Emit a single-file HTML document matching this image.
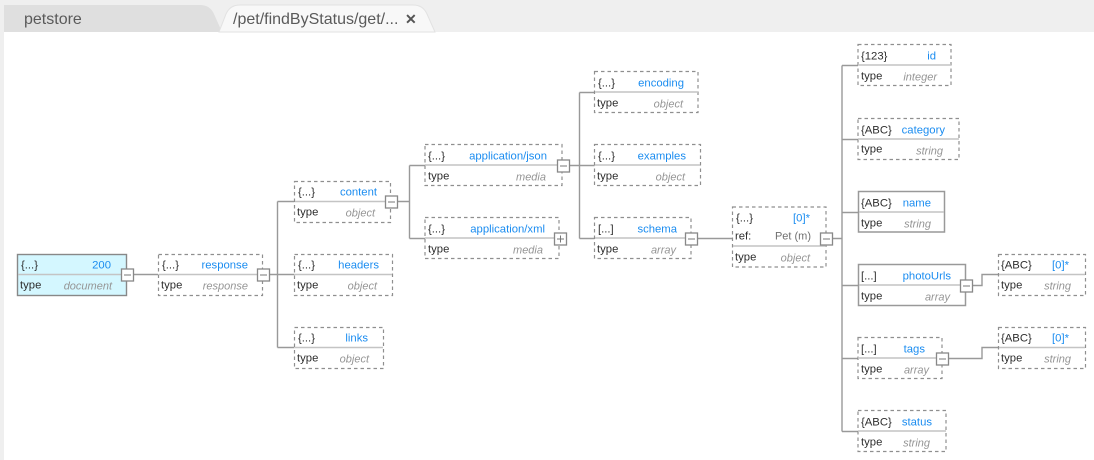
<!DOCTYPE html>
<html>
<head>
<meta charset="utf-8">
<style>
html,body{margin:0;padding:0;background:#fff;width:1094px;height:460px;overflow:hidden}
svg{display:block}
text{font-family:"Liberation Sans",sans-serif;font-size:11.3px;transform:translateY(-0.5px)}
.k{fill:#2e2e2e}
.b{fill:#1a8cf0;text-anchor:end}
.g{fill:#959595;text-anchor:end;font-style:italic;font-size:11px}
.r{fill:#707070;text-anchor:end;font-size:11px}
.d{fill:#fff;stroke:#8f8f8f;stroke-width:1.2;stroke-dasharray:3.5 3}
.s{fill:#fff;stroke:#999;stroke-width:1.5}
.m{stroke:#c4c4c4;stroke-width:1.5;fill:none}
.c{stroke:#999;stroke-width:1.4;fill:none}
.t{fill:#fff;stroke:#888;stroke-width:1.3}
.p{stroke:#777;stroke-width:1;fill:none}
</style>
</head>
<body>
<svg width="1094" height="460" viewBox="0 0 1094 460" xmlns="http://www.w3.org/2000/svg">
<rect x="0" y="0" width="1094" height="32" fill="#efefef"/>
<rect x="0" y="0" width="4" height="460" fill="#efefef"/>
<path d="M4 5H200Q210 5 214 14L222 32H4Z" fill="#dfdfdf"/>
<path d="M219 32L226 14Q230 5 240 5H413Q423 5 427 14L435 32Z" fill="#f8f8f8" stroke="#e2e2e2" stroke-width="1"/>
<text x="24" y="24.5" style="font-size:16px;fill:#5a5a5a">petstore</text>
<text x="233" y="24.5" style="font-size:16px;fill:#5a5a5a">/pet/findByStatus/get/...</text>
<text x="405" y="24.5" style="font-size:14px;font-weight:bold;fill:#555">✕</text>

<!-- connectors -->
<path class="c" d="M133 274.5H158M269 274.5H277.5M277.5 201.5V347.5M277.5 201.5H295M277.5 274.5H295M277.5 347.5H295"/>
<path class="c" d="M397 201.5H409.5M409.5 165.5V238.5M409.5 165.5H425M409.5 238.5H425"/>
<path class="c" d="M569 165.5H579.5M579.5 92.5V238.5M579.5 92.5H595M579.5 165.5H595M579.5 238.5H595"/>
<path class="c" d="M697 238.5H733"/>
<path class="c" d="M832 238.5H842M842 65.5V431.5M842 65.5H858M842 139.5H858M842 212.5H858M842 285.5H858M842 358.5H858M842 431.5H858"/>
<path class="c" d="M972 285.5H982V274.5H998"/>
<path class="c" d="M948 358.5H982V347.5H998"/>

<!-- 200 -->
<rect x="17.5" y="254.5" width="109" height="41" fill="#d4f7ff" stroke="#888" stroke-width="1.4"/>
<line x1="18" y1="274.5" x2="126" y2="274.5" class="m"/>
<text class="k" x="21" y="269">{...}</text><text class="b" x="111" y="269">200</text>
<text class="k" x="20" y="289">type</text><text class="g" x="112" y="290">document</text>

<!-- response -->
<rect class="d" x="158.5" y="254.5" width="104" height="41"/>
<line x1="159" y1="274.5" x2="262" y2="274.5" class="m"/>
<text class="k" x="162" y="269">{...}</text><text class="b" x="248" y="269">response</text>
<text class="k" x="161" y="289">type</text><text class="g" x="248" y="290">response</text>

<!-- content -->
<rect class="d" x="294.5" y="181.5" width="96" height="41"/>
<line x1="295" y1="201.5" x2="390" y2="201.5" class="m"/>
<text class="k" x="298" y="196">{...}</text><text class="b" x="377" y="196">content</text>
<text class="k" x="297" y="216">type</text><text class="g" x="375" y="217">object</text>

<!-- headers -->
<rect class="d" x="294.5" y="254.5" width="98" height="41"/>
<line x1="295" y1="274.5" x2="392" y2="274.5" class="m"/>
<text class="k" x="298" y="269">{...}</text><text class="b" x="379" y="269">headers</text>
<text class="k" x="297" y="289">type</text><text class="g" x="377" y="290">object</text>

<!-- links -->
<rect class="d" x="294.5" y="327.5" width="89" height="41"/>
<line x1="295" y1="347.5" x2="383" y2="347.5" class="m"/>
<text class="k" x="298" y="342">{...}</text><text class="b" x="368" y="342">links</text>
<text class="k" x="297" y="362">type</text><text class="g" x="369" y="363">object</text>

<!-- application/json -->
<rect class="d" x="425" y="144.5" width="137" height="41"/>
<line x1="425" y1="165" x2="562" y2="165" class="m"/>
<text class="k" x="428" y="160">{...}</text><text class="b" x="547" y="160">application/json</text>
<text class="k" x="428" y="180">type</text><text class="g" x="546" y="181">media</text>

<!-- application/xml -->
<rect class="d" x="425" y="217.5" width="134" height="41"/>
<line x1="425" y1="238" x2="559" y2="238" class="m"/>
<text class="k" x="428" y="233">{...}</text><text class="b" x="545" y="233">application/xml</text>
<text class="k" x="428" y="253">type</text><text class="g" x="543" y="254">media</text>

<!-- encoding -->
<rect class="d" x="594.5" y="71.5" width="103.5" height="41"/>
<line x1="595" y1="92" x2="698" y2="92" class="m"/>
<text class="k" x="598" y="87">{...}</text><text class="b" x="684" y="87">encoding</text>
<text class="k" x="597" y="107">type</text><text class="g" x="683" y="108">object</text>

<!-- examples -->
<rect class="d" x="594.5" y="144.5" width="106" height="41"/>
<line x1="595" y1="165" x2="700" y2="165" class="m"/>
<text class="k" x="598" y="160">{...}</text><text class="b" x="686" y="160">examples</text>
<text class="k" x="597" y="180">type</text><text class="g" x="685" y="181">object</text>

<!-- schema -->
<rect class="d" x="594.5" y="217.5" width="96.5" height="41"/>
<line x1="595" y1="238" x2="691" y2="238" class="m"/>
<text class="k" x="598" y="233">[...]</text><text class="b" x="677" y="233">schema</text>
<text class="k" x="597" y="253">type</text><text class="g" x="676" y="254">array</text>

<!-- [0]* Pet -->
<rect class="d" x="732.5" y="207" width="93.5" height="60"/>
<line x1="733" y1="246" x2="826" y2="246" class="m"/>
<text class="k" x="736" y="222">{...}</text><text class="b" x="810" y="222">[0]*</text>
<text class="k" x="735" y="240">ref:</text><text class="r" x="811" y="240">Pet (m)</text>
<text class="k" x="735" y="261">type</text><text class="g" x="810" y="262">object</text>

<!-- id -->
<rect class="d" x="858" y="44.5" width="93" height="41"/>
<line x1="858" y1="65" x2="951" y2="65" class="m"/>
<text class="k" x="861" y="60">{123}</text><text class="b" x="936" y="60">id</text>
<text class="k" x="861" y="80">type</text><text class="g" x="937" y="81">integer</text>

<!-- category -->
<rect class="d" x="858" y="118.5" width="101" height="41"/>
<line x1="858" y1="139" x2="959" y2="139" class="m"/>
<text class="k" x="861" y="134">{ABC}</text><text class="b" x="945" y="134">category</text>
<text class="k" x="861" y="153">type</text><text class="g" x="943" y="155">string</text>

<!-- name -->
<rect class="s" x="858.5" y="191.5" width="86" height="40.5"/>
<line x1="859" y1="212" x2="944" y2="212" class="m"/>
<text class="k" x="861" y="207">{ABC}</text><text class="b" x="931" y="207">name</text>
<text class="k" x="861" y="227">type</text><text class="g" x="931" y="228">string</text>

<!-- photoUrls -->
<rect class="s" x="858.5" y="264.5" width="107" height="41"/>
<line x1="859" y1="285" x2="965" y2="285" class="m"/>
<text class="k" x="861" y="280">[...]</text><text class="b" x="951" y="280">photoUrls</text>
<text class="k" x="861" y="300">type</text><text class="g" x="950" y="301">array</text>

<!-- [0]* upper -->
<rect class="d" x="998.5" y="254.5" width="87" height="41"/>
<line x1="999" y1="274.5" x2="1085" y2="274.5" class="m"/>
<text class="k" x="1001" y="269">{ABC}</text><text class="b" x="1069" y="269">[0]*</text>
<text class="k" x="1001" y="289">type</text><text class="g" x="1071" y="290">string</text>

<!-- tags -->
<rect class="d" x="858" y="337.5" width="84" height="41"/>
<line x1="858" y1="358" x2="942" y2="358" class="m"/>
<text class="k" x="861" y="353">[...]</text><text class="b" x="925" y="353">tags</text>
<text class="k" x="861" y="373">type</text><text class="g" x="929" y="374">array</text>

<!-- [0]* lower -->
<rect class="d" x="998.5" y="327.5" width="87" height="41"/>
<line x1="999" y1="347.5" x2="1085" y2="347.5" class="m"/>
<text class="k" x="1001" y="342">{ABC}</text><text class="b" x="1069" y="342">[0]*</text>
<text class="k" x="1001" y="362">type</text><text class="g" x="1071" y="363">string</text>

<!-- status -->
<rect class="d" x="858" y="410.5" width="88" height="41"/>
<line x1="858" y1="431" x2="946" y2="431" class="m"/>
<text class="k" x="861" y="426">{ABC}</text><text class="b" x="932" y="426">status</text>
<text class="k" x="861" y="446">type</text><text class="g" x="930" y="447">string</text>

<!-- toggles -->
<rect class="t" x="121.5" y="269" width="12" height="12"/><path class="p" d="M124 275H131"/>
<rect class="t" x="257.5" y="269" width="12" height="12"/><path class="p" d="M260 275H267"/>
<rect class="t" x="385.5" y="196" width="12" height="12"/><path class="p" d="M388 202H395"/>
<rect class="t" x="557.5" y="160" width="12" height="12"/><path class="p" d="M560 166H567"/>
<rect class="t" x="554.5" y="233" width="12" height="12"/><path class="p" d="M557 239H564M560.5 235.5V242.5"/>
<rect class="t" x="685.5" y="233" width="12" height="12"/><path class="p" d="M688 239H695"/>
<rect class="t" x="820.5" y="233" width="12" height="12"/><path class="p" d="M823 239H830"/>
<rect class="t" x="960.5" y="280" width="12" height="12"/><path class="p" d="M963 286H970"/>
<rect class="t" x="936.5" y="353" width="12" height="12"/><path class="p" d="M939 359H946"/>
</svg>
</body>
</html>
